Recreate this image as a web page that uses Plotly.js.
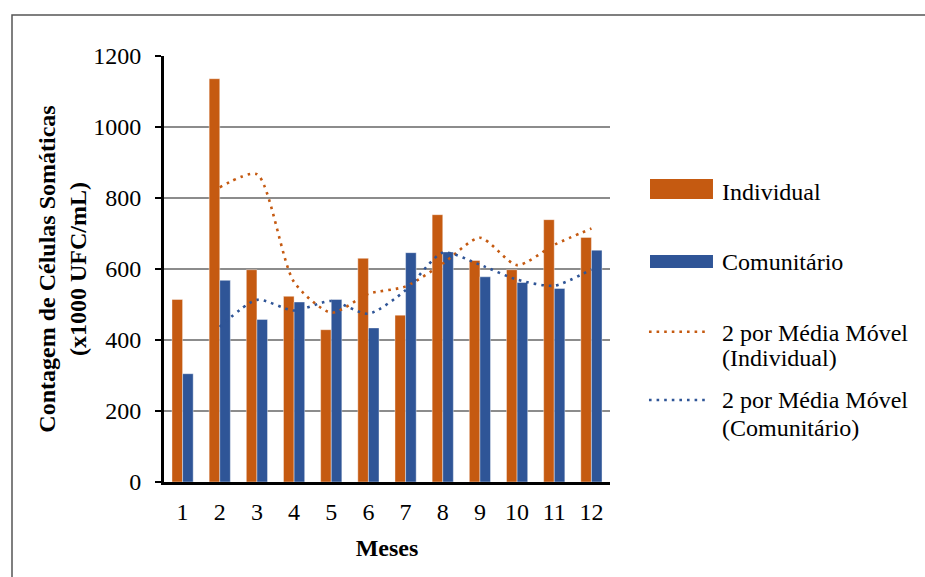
<!DOCTYPE html>
<html>
<head>
<meta charset="utf-8">
<script src="https://cdn.plot.ly/plotly-3.0.1.min.js"></script>
<style>
  html, body { margin: 0; padding: 0; background: #ffffff; }
  #chart { width: 925px; height: 577px; }
</style>
</head>
<body>
<div id="chart"></div>
<script>
// Months on the category axis
const months = ['1', '2', '3', '4', '5', '6', '7', '8', '9', '10', '11', '12'];

// Somatic cell counts (x1000 UFC/mL) per month
const individual = [514, 1136, 598, 523, 429, 630, 470, 753, 624, 598, 739, 689];
const comunitario = [305, 568, 458, 507, 514, 434, 646, 648, 578, 562, 545, 653];

// 2-period moving averages (start at month 2)
const maMonths = ['2', '3', '4', '5', '6', '7', '8', '9', '10', '11', '12'];
const maIndividual = [830, 867, 563, 477, 530, 551, 615, 688, 611, 668, 714];
const maComunitario = [437, 513, 483, 510, 474, 540, 646, 612, 570, 553, 599];

// Legend labels
const legendLabels = ['Individual', 'Comunitário', '2 por Média Móvel', '(Individual)', '2 por Média Móvel', '(Comunitário)'];

const ORANGE = '#C55A11';
const BLUE = '#2F5597';
const FONT = 'Liberation Serif, serif';

const traces = [
  { type: 'bar', x: months, y: individual, name: 'Individual',
    marker: { color: ORANGE, line: { color: 'rgba(255,255,255,0.5)', width: 0.8 } } },
  { type: 'bar', x: months, y: comunitario, name: 'Comunitário',
    marker: { color: BLUE, line: { color: 'rgba(255,255,255,0.5)', width: 0.8 } } },
  { type: 'scatter', mode: 'lines', x: maMonths, y: maIndividual,
    line: { color: ORANGE, width: 2.6, dash: '2.6px,5px', shape: 'spline', smoothing: 0.7 } },
  { type: 'scatter', mode: 'lines', x: maMonths, y: maComunitario,
    line: { color: BLUE, width: 2.6, dash: '2.6px,5px', shape: 'spline', smoothing: 0.7 } }
];

// Hand-placed legend (paper coordinates, right of the plot area)
const legendShapes = [
  { type: 'rect', xref: 'paper', yref: 'paper', x0: 1.0897, x1: 1.2309, y0: 0.6643, y1: 0.7113,
    fillcolor: ORANGE, line: { width: 0 } },
  { type: 'rect', xref: 'paper', yref: 'paper', x0: 1.0897, x1: 1.2309, y0: 0.5023, y1: 0.5329,
    fillcolor: BLUE, line: { width: 0 } },
  { type: 'line', xref: 'paper', yref: 'paper', x0: 1.0874, x1: 1.2220, y0: 0.3528, y1: 0.3528,
    line: { color: ORANGE, width: 2.6, dash: '2.6px,5px' } },
  { type: 'line', xref: 'paper', yref: 'paper', x0: 1.0874, x1: 1.2220, y0: 0.1925, y1: 0.1925,
    line: { color: BLUE, width: 2.6, dash: '2.6px,5px' } },
  // outer frame of the chart
  { type: 'rect', xref: 'paper', yref: 'paper', x0: -0.3408, x1: 2, y0: -1, y1: 1.0962,
    line: { color: '#555555', width: 1.5 }, fillcolor: 'rgba(0,0,0,0)', layer: 'below' }
];

const legendY = [0.681, 0.516, 0.3498, 0.2911, 0.1925, 0.1268];
const annotations = legendLabels.map((t, i) => ({
  xref: 'paper', yref: 'paper', x: 1.2466, y: legendY[i],
  xanchor: 'left', yanchor: 'middle', showarrow: false,
  text: '<span style="font-family:Liberation Serif,serif">' + t + '</span>',
  font: { family: FONT, size: 24, color: '#000000' }
}));

const layout = {
  width: 925, height: 577,
  margin: { l: 164, r: 315, t: 56, b: 95 },
  paper_bgcolor: '#ffffff', plot_bgcolor: '#ffffff',
  barmode: 'group', bargap: 0.43, bargroupgap: 0,
  showlegend: false,
  font: { family: FONT, size: 24, color: '#000000' },
  xaxis: {
    type: 'category',
    showgrid: false, zeroline: false,
    showline: true, linecolor: '#000000', linewidth: 3,
    ticks: '', ticklabelstandoff: 6, tickfont: { family: FONT, size: 24 },
    title: { text: '<b>Meses</b>', font: { family: FONT, size: 24 }, standoff: 16 }
  },
  yaxis: {
    range: [0, 1200], dtick: 200,
    showgrid: true, gridcolor: '#8c8c8c', gridwidth: 1.5,
    zeroline: false,
    showline: true, linecolor: '#000000', linewidth: 3,
    ticks: 'outside', ticklen: 6, tickwidth: 2.5, tickcolor: '#000000',
    ticklabelstandoff: 9,
    tickfont: { family: FONT, size: 24 },
    title: { text: '<b>Contagem de Células Somáticas</b><br><b>(x1000 UFC/mL)</b>',
             font: { family: FONT, size: 24 }, standoff: 0 }
  },
  shapes: legendShapes,
  annotations: annotations
};

Plotly.newPlot('chart', traces, layout, { displayModeBar: false, staticPlot: true });
</script>
</body>
</html>
